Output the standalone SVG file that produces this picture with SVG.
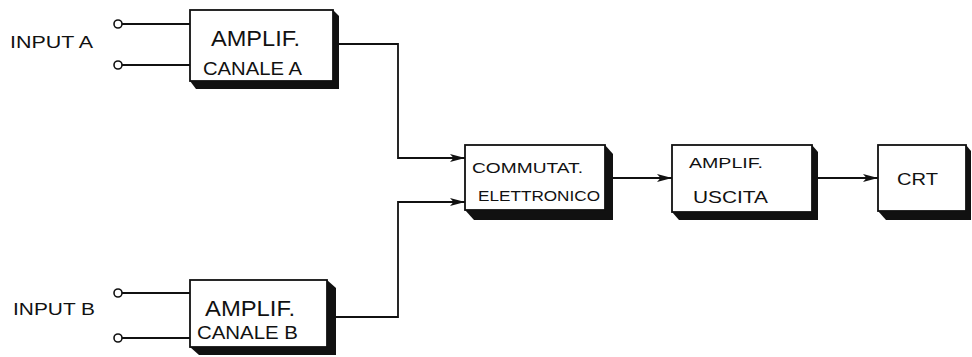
<svg xmlns="http://www.w3.org/2000/svg" width="972" height="357" viewBox="0 0 972 357">
<defs>
<style>
.face{fill:#fff;stroke:#111;stroke-width:1.8}
.shadow{fill:#111}
.t{font-family:"Liberation Sans",Arial,sans-serif;fill:#111}
.wire{fill:none;stroke:#111;stroke-width:1.8}
.term{fill:#fff;stroke:#111;stroke-width:1.6}
</style>
<marker id="arr" viewBox="0 0 15 9" refX="15" refY="4.5" markerWidth="15" markerHeight="9" markerUnits="userSpaceOnUse" orient="auto">
<path d="M0,0.5 L15,4.5 L0,8.5 L3.5,4.5 Z" fill="#111"/>
</marker>
</defs>
<rect width="972" height="357" fill="#fff"/>

<g id="inputA">
<text class="t" x="10" y="48" font-size="16" textLength="83" lengthAdjust="spacingAndGlyphs">INPUT A</text>
<circle class="term" cx="118" cy="24" r="4"/>
<circle class="term" cx="118" cy="65" r="4"/>
<line class="wire" x1="122" y1="24" x2="190" y2="24"/>
<line class="wire" x1="122" y1="65" x2="190" y2="65"/>
</g>

<g id="inputB">
<text class="t" x="13" y="315" font-size="16" textLength="82" lengthAdjust="spacingAndGlyphs">INPUT B</text>
<circle class="term" cx="118" cy="293" r="4"/>
<circle class="term" cx="118" cy="338" r="4"/>
<line class="wire" x1="122" y1="293" x2="190" y2="293"/>
<line class="wire" x1="122" y1="338" x2="190" y2="338"/>
</g>

<g id="connectors">
<polyline class="wire" points="337,44 398,44 398,158 465,158" marker-end="url(#arr)"/>
<polyline class="wire" points="335,317 398,317 398,202 465,202" marker-end="url(#arr)"/>
<line class="wire" x1="613" y1="178" x2="672" y2="178" marker-end="url(#arr)"/>
<line class="wire" x1="817" y1="178" x2="878" y2="178" marker-end="url(#arr)"/>
</g>

<g id="amplifA">
<polygon class="shadow" points="333,10 339,16 339,89 196,89 190,81"/>
<rect class="face" x="190" y="10" width="143" height="71"/>
<text class="t" x="211" y="46" font-size="22" textLength="89" lengthAdjust="spacingAndGlyphs">AMPLIF.</text>
<text class="t" x="203" y="75" font-size="19" textLength="99" lengthAdjust="spacingAndGlyphs">CANALE A</text>
</g>

<g id="amplifB">
<polygon class="shadow" points="327,280 336,288 336,355 199,355 190,347"/>
<rect class="face" x="190" y="280" width="137" height="67"/>
<text class="t" x="205" y="316" font-size="22" textLength="90" lengthAdjust="spacingAndGlyphs">AMPLIF.</text>
<text class="t" x="197" y="339" font-size="18" textLength="101" lengthAdjust="spacingAndGlyphs">CANALE  B</text>
</g>

<g id="commutatore">
<polygon class="shadow" points="605,145 613,154 613,220 474,220 465,210"/>
<rect class="face" x="465" y="145" width="140" height="65"/>
<text class="t" x="472" y="173" font-size="15" textLength="111" lengthAdjust="spacingAndGlyphs">COMMUTAT.</text>
<text class="t" x="478" y="201" font-size="15" textLength="122" lengthAdjust="spacingAndGlyphs">ELETTRONICO</text>
</g>

<g id="amplifUscita">
<polygon class="shadow" points="812,145 818,152 818,220 679,220 672,212"/>
<rect class="face" x="672" y="145" width="140" height="67"/>
<text class="t" x="689" y="168" font-size="15" textLength="74" lengthAdjust="spacingAndGlyphs">AMPLIF.</text>
<text class="t" x="693" y="203" font-size="17" textLength="75" lengthAdjust="spacingAndGlyphs">USCITA</text>
</g>

<g id="crt">
<polygon class="shadow" points="966,145 971,151 971,220 886,220 878,211"/>
<rect class="face" x="878" y="145" width="88" height="66"/>
<text class="t" x="897" y="185" font-size="17" textLength="41" lengthAdjust="spacingAndGlyphs">CRT</text>
</g>
</svg>
